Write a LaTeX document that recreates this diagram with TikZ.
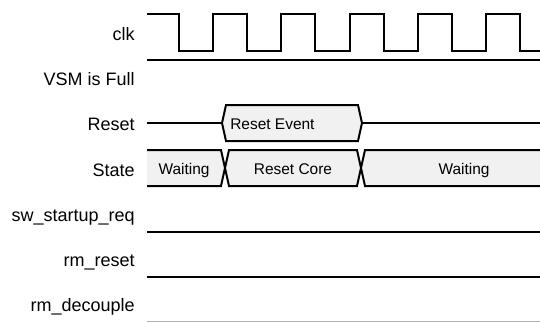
\documentclass[tikz,border=0pt]{standalone}
\usepackage{fontspec}
\setmainfont{Liberation Sans}
\definecolor{boxfill}{HTML}{F1F1F1}

\begin{document}
\begin{tikzpicture}[x=0.75pt, y=-0.75pt,
    sig/.style={line width=1.5pt, line join=miter},
    lbl/.style={anchor=base east, inner sep=0pt, font=\fontsize{13.5}{16}\selectfont},
    val/.style={anchor=base, inner sep=0pt, font=\fontsize{11.6}{14}\selectfont}]

\useasboundingbox (0,0) rectangle (540,322);

% signal names
\node[lbl] (clk) at (135,40) {clk};
\node[lbl] (full) at (135,85.5) {VSM is Full};
\node[lbl] (reset) at (135,130) {Reset};
\node[lbl] (state) at (135,176) {State};
\node[lbl] (swreq) at (135,221) {sw\_startup\_req};
\node[lbl] (rmreset) at (135,266) {rm\_reset};
\node[lbl] (rmdecouple) at (135,311) {rm\_decouple};

% clock
\draw[sig] (147,14)
  \foreach \i in {0,...,4} {
    -- ({179+68.2*\i},14) -- ({179+68.2*\i},51)
    -- ({213.1+68.2*\i},51) -- ({213.1+68.2*\i},14)
  }
  -- (520,14) -- (520,51) -- (540,51);

% VSM is Full
\draw[sig] (147,60) -- (540,60);

% Reset
\draw[sig, fill=boxfill] (222,123) -- (226,105) -- (358,105) -- (362,123)
  -- (358,141) -- (226,141) -- cycle;
\draw[sig] (147,123) -- (222,123);
\draw[sig] (362,123) -- (540,123);
\node[val, anchor=base west] (evt) at (230,129) {Reset Event};

% State
\fill[boxfill] (147,150) -- (221,150) -- (225,168) -- (221,186) -- (147,186) -- cycle;
\draw[sig] (147,150) -- (221,150) -- (225,168) -- (221,186) -- (147,186);
\draw[sig, fill=boxfill] (225,168) -- (229,150) -- (357,150) -- (361,168)
  -- (357,186) -- (229,186) -- cycle;
\fill[boxfill] (541,150) -- (365,150) -- (361,168) -- (365,186) -- (541,186) -- cycle;
\draw[sig] (541,150) -- (365,150) -- (361,168) -- (365,186) -- (541,186);
\node[val] (wait1) at (184,174) {Waiting};
\node[val] (core) at (293,174) {Reset Core};
\node[val] (wait2) at (464,174) {Waiting};

% low signals
\draw[sig] (147,232) -- (540,232);
\draw[sig] (147,277) -- (540,277);
\draw[line width=1pt, black!30] (147,321.5) -- (540,321.5);

\end{tikzpicture}
\end{document}
